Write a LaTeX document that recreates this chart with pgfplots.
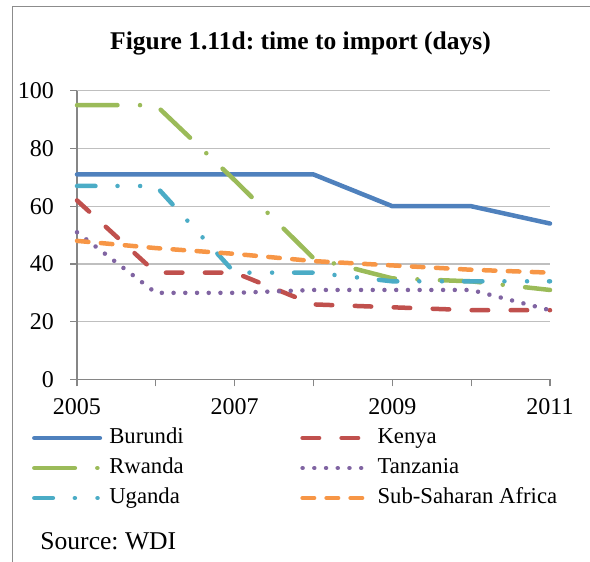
\documentclass[border=0pt]{standalone}
\usepackage{fontspec}
\setmainfont{Liberation Serif}
\usepackage{pgfplots}
\pgfplotsset{compat=1.18}
\frenchspacing

\definecolor{cBur}{HTML}{4F81BD}
\definecolor{cKen}{HTML}{C0504D}
\definecolor{cRwa}{HTML}{9BBB59}
\definecolor{cTan}{HTML}{8064A2}
\definecolor{cUga}{HTML}{4BACC6}
\definecolor{cSSA}{HTML}{F79646}
\definecolor{axisgray}{HTML}{868686}
\definecolor{gridgray}{HTML}{BFBFBF}
\definecolor{framegray}{HTML}{8C8C8C}

\begin{document}
\begin{tikzpicture}
\begin{axis}[
    at={(38.5pt,91.25pt)}, anchor=south west,
    scale only axis, width=236.5pt, height=144.4pt,
    xmin=2005, xmax=2011, ymin=0, ymax=100,
    xtick={2005,...,2011}, xticklabels={2005,,2007,,2009,,2011},
    ytick={0,20,...,100},
    axis x line*=bottom, axis y line*=left,
    axis line style={draw=axisgray, line width=0.6pt},
    tick align=outside, major tick length=3.5pt,
    tick style={draw=axisgray, line width=0.6pt},
    ymajorgrids, major grid style={draw=gridgray, line width=0.6pt},
    clip=false,
    tick label style={font=\fontsize{12}{14}\selectfont},
    yticklabel style={xshift=-4.5pt},
    xticklabel style={yshift=-2.5pt},
    /pgf/number format/assume math mode=true,
    every axis plot/.append style={line width=2.25pt, line cap=round, line join=round},
    legend columns=2,
    legend cell align=left,
    legend image code/.code={\draw[#1] (0pt,0pt) -- (32.75pt,0pt);},
    legend style={
        at={(-0.0957,-0.1649)}, anchor=north west,
        draw=none, fill=none, inner sep=0pt,
        font=\fontsize{11.35}{13}\selectfont,
        nodes={inner sep=0pt, text height=8pt, text depth=2.5pt},
        row sep=4.5pt,
        /tikz/every odd column/.append style={column sep=3.6pt},
        /tikz/every even column/.append style={column sep=58.3pt},
    },
]
\addplot[cBur] coordinates {(2005,71) (2006,71) (2007,71) (2008,71) (2009,60) (2010,60) (2011,54)};
\addlegendentry{Burundi}
\addplot[cKen, dash pattern=on 8.25pt off 11.25pt] coordinates {(2005,62) (2006,37) (2007,37) (2008,26) (2009,25) (2010,24) (2011,24)};
\addlegendentry{Kenya}
\addplot[cRwa, dash pattern=on 20.25pt off 11.25pt on 0.01pt off 11.25pt] coordinates {(2005,95) (2006,95) (2007,69) (2008,42) (2009,35) (2010,34) (2011,31)};
\addlegendentry{Rwanda}
\addplot[cTan, dash pattern=on 0.01pt off 5.85pt] coordinates {(2005,51) (2006,30) (2007,30) (2008,31) (2009,31) (2010,31) (2011,24)};
\addlegendentry{Tanzania}
\addplot[cUga, dash pattern=on 9.25pt off 11pt on 0.01pt off 11.3pt on 0.01pt off 11pt] coordinates {(2005,67) (2006,67) (2007,37) (2008,37) (2009,34) (2010,34) (2011,34)};
\addlegendentry{Uganda}
\addplot[cSSA, dash pattern=on 5.75pt off 6.25pt] coordinates {(2005,48) (2006,45.5) (2007,43.5) (2008,41) (2009,39.5) (2010,38) (2011,37)};
\addlegendentry{Sub-Saharan Africa}
\end{axis}
\begin{scope}[x=0.5pt, y=-0.5pt, yshift=281pt]
  \draw[framegray, line width=0.75pt] (12.3,562) -- (12.3,6.5) -- (590,6.5);
  \node[font=\bfseries\fontsize{12.75}{15}\selectfont, anchor=base, inner sep=0pt]
    at (300.5,49.3) {Figure 1.11d: time to import (days)};
  \node[font=\fontsize{12.8}{15}\selectfont, anchor=base west, inner sep=0pt]
    at (40,550) {Source: WDI};
  \pgfresetboundingbox
  \useasboundingbox (0,0) rectangle (590,562);
\end{scope}
\end{tikzpicture}
\end{document}
